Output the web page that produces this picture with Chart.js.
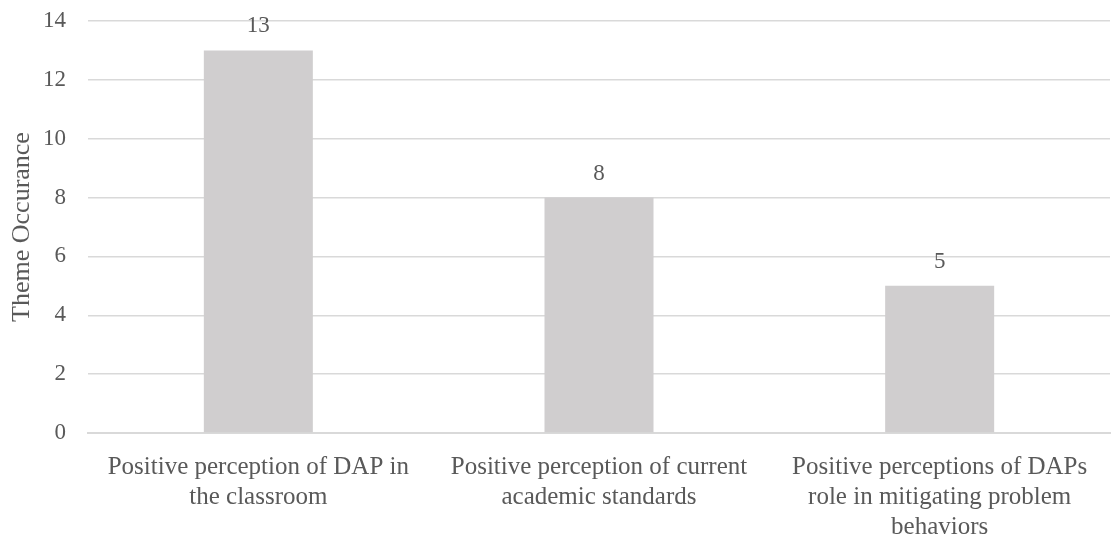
<!DOCTYPE html>
<html>
<head>
<meta charset="utf-8">
<script src="https://cdn.jsdelivr.net/npm/chart.js@4/dist/chart.umd.min.js"></script>
<style>
  html, body { margin: 0; padding: 0; background: #fff; }
  #wrap { width: 1112px; height: 535px; position: relative; }
</style>
</head>
<body>
<div id="wrap"><canvas id="theme-chart"></canvas></div>
<script>
const categories = [
  ["Positive perception of DAP in", "the classroom"],
  ["Positive perception of current", "academic standards"],
  ["Positive perceptions of DAPs", "role in mitigating problem", "behaviors"]
];
const occurrences = [13, 8, 5];
const yTicks = [0, 2, 4, 6, 8, 10, 12, 14];

const textColor = "#595959";
const serif = "'Liberation Serif', 'Times New Roman', serif";

// draws the value above each bar
const valueLabels = {
  id: "valueLabels",
  afterDatasetsDraw(chart) {
    const ctx = chart.ctx;
    ctx.save();
    ctx.font = "23px " + serif;
    ctx.fillStyle = textColor;
    ctx.textAlign = "center";
    ctx.textBaseline = "middle";
    chart.getDatasetMeta(0).data.forEach((bar, i) => {
      ctx.fillText(String(occurrences[i]), bar.x, bar.y - 24);
    });
    ctx.restore();
  }
};

new Chart(document.getElementById("theme-chart"), {
  type: "bar",
  data: {
    labels: categories,
    datasets: [{
      data: occurrences,
      backgroundColor: "#d0cecf",
      barPercentage: 0.32,
      categoryPercentage: 1
    }]
  },
  options: {
    responsive: true,
    maintainAspectRatio: false,
    animation: false,
    layout: { padding: { top: 21, right: 2, left: 0, bottom: 0 } },
    plugins: {
      legend: { display: false },
      tooltip: { enabled: false }
    },
    scales: {
      x: {
        grid: { display: false, drawTicks: false },
        border: { color: "#d9d9d9", width: 2 },
        ticks: {
          color: textColor,
          font: { family: serif, size: 25, lineHeight: 1.2 },
          padding: 19,
          maxRotation: 0,
          autoSkip: false
        },
        afterFit(scale) { scale.height = 102; }
      },
      y: {
        min: 0,
        max: 14,
        afterBuildTicks(scale) { scale.ticks = yTicks.map(v => ({ value: v })); },
        grid: { color: "#d9d9d9", lineWidth: 1.5, drawTicks: false },
        border: { display: false },
        ticks: {
          color: textColor,
          font: { family: serif, size: 23 },
          padding: 22
        },
        title: {
          display: true,
          text: "Theme Occurance",
          color: textColor,
          font: { family: serif, size: 26 },
          padding: { top: 7, bottom: 1 }
        },
        afterFit(scale) {
          scale.width = 88;
          scale.paddingTop = 0;
          scale.paddingBottom = 0;
        }
      }
    }
  },
  plugins: [valueLabels]
});
</script>
</body>
</html>
